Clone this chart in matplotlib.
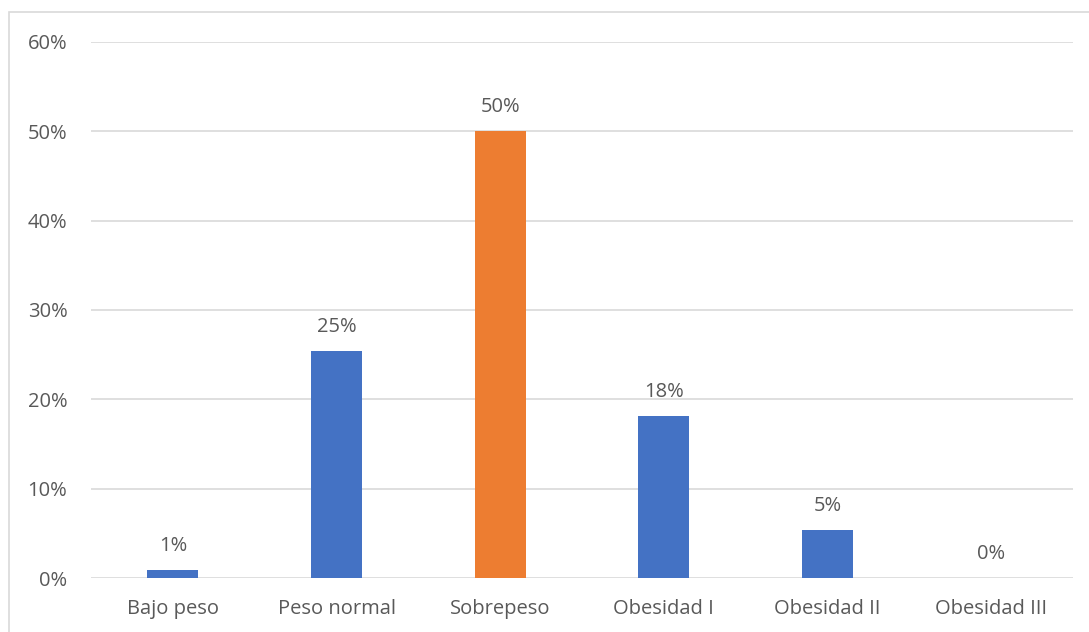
import matplotlib.pyplot as plt
import matplotlib.patches as patches
import matplotlib.ticker as mticker

categories = ['Bajo peso', 'Peso normal', 'Sobrepeso', 'Obesidad I', 'Obesidad II', 'Obesidad III']
values = [0.009, 0.254, 0.500, 0.181, 0.054, 0.0]
colors = ['#4472C4', '#4472C4', '#ED7D31', '#4472C4', '#4472C4', '#4472C4']

plt.rcParams['font.family'] = ['Open Sans', 'DejaVu Sans']
txt = '#595959'
fs = 14.5

fig = plt.figure(figsize=(10.89, 6.32), dpi=100)
ax = fig.add_axes([91/1089, 1 - 578/632, (1073 - 91)/1089, (578 - 42)/632])

# chart frame
fig.patches.append(patches.Rectangle((9/1089, -0.05), 1.1, 1 - 12/632 + 0.05,
                                     transform=fig.transFigure, fill=False,
                                     edgecolor='#d9d9d9', linewidth=1.2))

x = range(len(categories))
ax.bar(x, values, width=0.31, color=colors, zorder=3)
for i, v in enumerate(values):
    ax.annotate(f'{v*100:.0f}%', (i, v), xytext=(0, 10), textcoords='offset points',
                ha='center', va='bottom', fontsize=fs, color=txt)

ax.set_xlim(-0.5, len(categories) - 0.5)
ax.set_ylim(0, 0.6)
ax.yaxis.set_major_locator(mticker.MultipleLocator(0.1))
ax.yaxis.set_major_formatter(mticker.FuncFormatter(lambda y, _: f'{y*100:.0f}%'))
ax.grid(axis='y', color='#d9d9d9', linewidth=1.2, zorder=0)
ax.set_xticks(list(x))
ax.set_xticklabels(categories)
ax.tick_params(length=0, labelsize=fs, labelcolor=txt)
ax.tick_params(axis='x', pad=15)
ax.tick_params(axis='y', pad=17)
for s in ax.spines.values():
    s.set_visible(False)

fig.savefig('out.png', dpi=100, facecolor='white')
